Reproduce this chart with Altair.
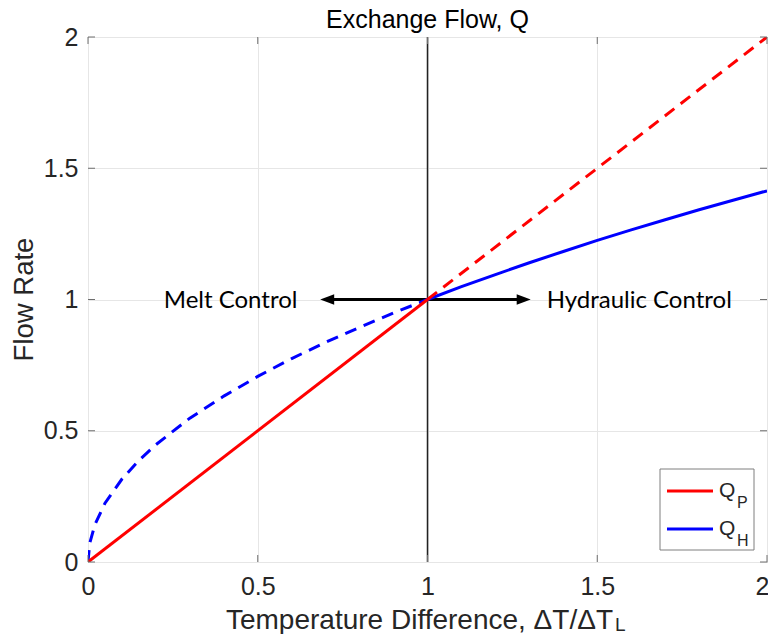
import altair as alt
import pandas as pd

# ---- data ----
qp_solid_x = [0.0, 1.0]
qp_solid_y = [0.0, 1.0]
qp_dash_x = [1.0, 2.0]
qp_dash_y = [1.0, 2.0]

qh_dash_x = [0.0, 0.005, 0.02, 0.05, 0.1, 0.15, 0.2, 0.3, 0.4, 0.5, 0.6, 0.7, 0.8, 0.9, 1.0]
qh_dash_y = [0.0, 0.071, 0.141, 0.224, 0.316, 0.387, 0.447, 0.548, 0.632, 0.707, 0.775, 0.837, 0.894, 0.949, 1.0]
qh_solid_x = [1.0, 1.1, 1.2, 1.3, 1.4, 1.5, 1.6, 1.7, 1.8, 1.9, 2.0]
qh_solid_y = [1.0, 1.049, 1.095, 1.140, 1.183, 1.225, 1.265, 1.304, 1.342, 1.378, 1.414]

x_ticks = [0, 0.5, 1, 1.5, 2]
y_ticks = [0, 0.5, 1, 1.5, 2]

divider_x = [1.0]
divider_y = [0.0, 2.0]
arrow_left = [1.0, 0.70]
arrow_left_tip = [0.684]
arrow_right = [1.0, 1.29]
arrow_right_tip = [1.304]
arrow_y = [1.0]

annot_text = ["Melt Control", "Hydraulic Control"]
annot_x = [0.617, 1.351]

title_text = "Exchange Flow, Q"
xlabel_main = "Temperature Difference, \u0394T/\u0394T"
xlabel_sub = "L"
ylabel = "Flow Rate"
legend_main = ["Q", "Q"]
legend_sub = ["P", "H"]
legend_colors = ["#ff0000", "#0000ff"]

W, H = 679, 525
FONT = "Liberation Sans"
AX = "#6e6e6e"
TXT = "#262626"
DASH = [12, 8]

xs = alt.Scale(domain=[0, 2], nice=False, zero=False)
ys = alt.Scale(domain=[0, 2], nice=False, zero=False)

last_x = "datum.value == 2"
x_axis = alt.Axis(values=x_ticks, format="~g", grid=True, gridColor="#e6e6e6", gridWidth=1,
                  domain=False, ticks=False, labelFontSize=25, labelFont=FONT, labelColor=TXT,
                  labelPadding=12, labelFlush=False, labelOverlap=False, title=None,
                  labelAlign={"condition": {"test": last_x, "value": "right"}, "value": "center"},
                  labelOffset={"condition": {"test": last_x, "value": 2}, "value": 0})
y_axis = alt.Axis(values=y_ticks, format="~g", grid=True, gridColor="#e6e6e6", gridWidth=1,
                  domain=False, ticks=False, labelFontSize=25, labelFont=FONT, labelColor=TXT,
                  labelPadding=10, labelFlush=False, labelOverlap=False, title=None)

X = lambda: alt.X("x:Q", scale=xs, axis=x_axis)
Y = lambda: alt.Y("y:Q", scale=ys, axis=y_axis)

one = pd.DataFrame({"a": [0]})


def line_layer(xv, yv, color, dash=None, width=3):
    df = pd.DataFrame({"x": xv, "y": yv})
    kw = dict(color=color, strokeWidth=width, clip=True)
    if dash:
        kw["strokeDash"] = dash
    return alt.Chart(df).mark_line(**kw).encode(x=X(), y=Y())


def label(text, size, x, y, align="left", angle=None, font=FONT, color=TXT):
    kw = dict(text=text, font=font, fontSize=size, align=align, baseline="alphabetic", color=color)
    if angle is not None:
        kw["angle"] = angle
    return alt.Chart(one).mark_text(**kw).encode(x=alt.value(x), y=alt.value(y))


# grid base (axes)
base = alt.Chart(pd.DataFrame({"x": x_ticks, "y": y_ticks})).mark_point(opacity=0).encode(x=X(), y=Y())

# vertical divider at x = 1, spanning the y range
divider = line_layer(divider_x * 2, divider_y, "#222222", width=1.5)

# arrows
arr_l = line_layer(arrow_left, arrow_y * 2, "black")
arr_r = line_layer(arrow_right, arrow_y * 2, "black")
head_l = alt.Chart(pd.DataFrame({"x": arrow_left_tip, "y": arrow_y})).mark_point(
    shape="M0,0L2,-0.75L2,0.75Z", filled=True, color="black", opacity=1, size=196).encode(x=X(), y=Y())
head_r = alt.Chart(pd.DataFrame({"x": arrow_right_tip, "y": arrow_y})).mark_point(
    shape="M0,0L-2,-0.75L-2,0.75Z", filled=True, color="black", opacity=1, size=196).encode(x=X(), y=Y())

# annotations
ann_df = pd.DataFrame({"x": annot_x, "y": arrow_y * 2, "t": annot_text})
ann_l = alt.Chart(ann_df.iloc[[0]]).mark_text(font="Lato", fontSize=24, align="right", baseline="middle",
                                               color="black", dy=1).encode(x=X(), y=Y(), text="t:N")
ann_r = alt.Chart(ann_df.iloc[[1]]).mark_text(font="Lato", fontSize=24, align="left", baseline="middle",
                                               color="black", dy=1).encode(x=X(), y=Y(), text="t:N")

# curves
qh_d = line_layer(qh_dash_x, qh_dash_y, "#0000ff", DASH)
qh_s = line_layer(qh_solid_x, qh_solid_y, "#0000ff")
qp_s = line_layer(qp_solid_x, qp_solid_y, "#ff0000")
qp_d = line_layer(qp_dash_x, qp_dash_y, "#ff0000", DASH)

# inward ticks on all four sides
xt = pd.DataFrame({"x": x_ticks})
yt = pd.DataFrame({"y": y_ticks})
tk = dict(color=AX, strokeWidth=1)
t_bot = alt.Chart(xt).mark_rule(**tk).encode(x=X(), y=alt.value(H), y2=alt.value(H - 7))
t_top = alt.Chart(xt).mark_rule(**tk).encode(x=X(), y=alt.value(0), y2=alt.value(7))
t_lft = alt.Chart(yt).mark_rule(**tk).encode(y=Y(), x=alt.value(0), x2=alt.value(7))
t_rgt = alt.Chart(yt).mark_rule(**tk).encode(y=Y(), x=alt.value(W), x2=alt.value(W - 7))

# legend
leg_box = alt.Chart(one).mark_rect(fill="white", stroke="#7f7f7f", strokeWidth=1).encode(
    x=alt.value(572), x2=alt.value(666), y=alt.value(432), y2=alt.value(513))
leg_layers = [leg_box]
for i, (m, s, c) in enumerate(zip(legend_main, legend_sub, legend_colors)):
    yy = 454 + 38 * i
    leg_layers.append(alt.Chart(one).mark_rule(color=c, strokeWidth=3).encode(
        x=alt.value(579), x2=alt.value(625), y=alt.value(yy)))
    leg_layers.append(label(m, 21, 631, yy + 6))
    leg_layers.append(label(s, 16, 649, yy + 17))

# titles
title_l = label(title_text, 25, W / 2, -9, align="center", color="black")
xlab = label(xlabel_main, 28, 525, 592, align="right")
xlab_sub = label(xlabel_sub, 19, 527, 594)
ylab = label(ylabel, 27.5, -55, H / 2, align="center", angle=270)

chart = alt.layer(
    base, divider, arr_l, arr_r, head_l, head_r,
    qh_d, qh_s, qp_s, qp_d,
    t_bot, t_top, t_lft, t_rgt,
    ann_l, ann_r,
    *leg_layers,
    title_l, xlab, xlab_sub, ylab,
).properties(
    width=W, height=H,
    autosize=alt.AutoSizeParams(type="none"),
    padding={"left": 80, "top": 29, "right": 1, "bottom": 72},
    background="white",
).configure_view(stroke=AX, strokeWidth=1)

chart.save("out.html", embed_options={"renderer": "svg", "actions": False})
